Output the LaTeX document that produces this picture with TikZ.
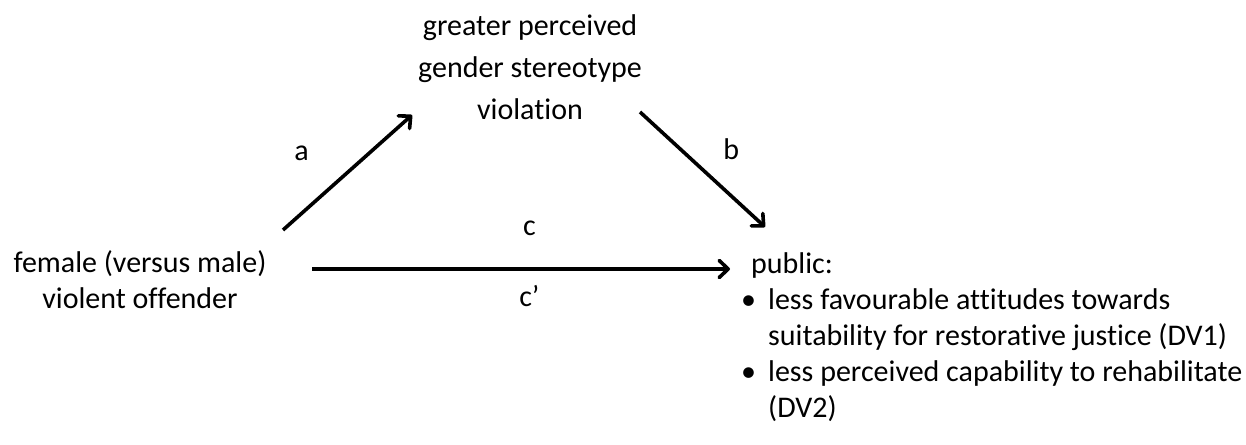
\documentclass[tikz,border=0pt]{standalone}
\usepackage{fontspec}
\setmainfont{Carlito}[Ligatures=CommonOff]
\usetikzlibrary{arrows.meta,positioning}
\tikzset{
  >={Straight Barb[length=9pt,width=17pt,line join=round,line cap=round]},
  var/.style={inner sep=0pt,font=\fontsize{30}{36}\selectfont,align=center},
  outcome/.style={inner sep=0pt,font=\fontsize{30}{36}\selectfont,align=left},
  effect/.style={->,line width=3.6pt,draw=black},
  lbl/.style={inner sep=0pt,font=\fontsize{30}{36}\selectfont},
}
\newcommand{\dvitem}{\makebox[27pt][l]{\textbullet}}
\begin{document}
\begin{tikzpicture}[x=1pt,y=-1pt]
  \useasboundingbox (0,0) rectangle (1246,444);
  % variables (base = last line)
  \node[var,font=\fontsize{30}{42}\selectfont,anchor=base] (med) at (530,119)
    {greater perceived\\gender stereotype\\violation};
  \node[var,anchor=base] (iv) at (140,308) {female (versus male)\\violent offender};
  \node[outcome,anchor=base west] (dv) at (741,417)
    {\hspace*{10pt}public:\\
     \dvitem less favourable attitudes towards\\
     \hspace*{27pt}suitability for restorative justice (DV1)\\
     \dvitem less perceived capability to rehabilitate\\
     \hspace*{27pt}(DV2)};
  % paths
  \draw[effect] ([shift={(143,-78)}]iv.base) -- node[lbl,above left=10pt and 37pt]{a}
    ([shift={(-118,-4)}]med.base);
  \draw[effect] ([shift={(110,-7)}]med.base) -- node[lbl,above right=7.5pt and 19pt]{b}
    ([shift={(24,-190)}]dv.base west);
  \draw[effect] ([shift={(172,-39)}]iv.base) --
    node[lbl,pos=0.52,above=31pt]{c} node[lbl,pos=0.52,below=15pt]{c’}
    ([shift={(-11,-148)}]dv.base west);
\end{tikzpicture}
\end{document}
